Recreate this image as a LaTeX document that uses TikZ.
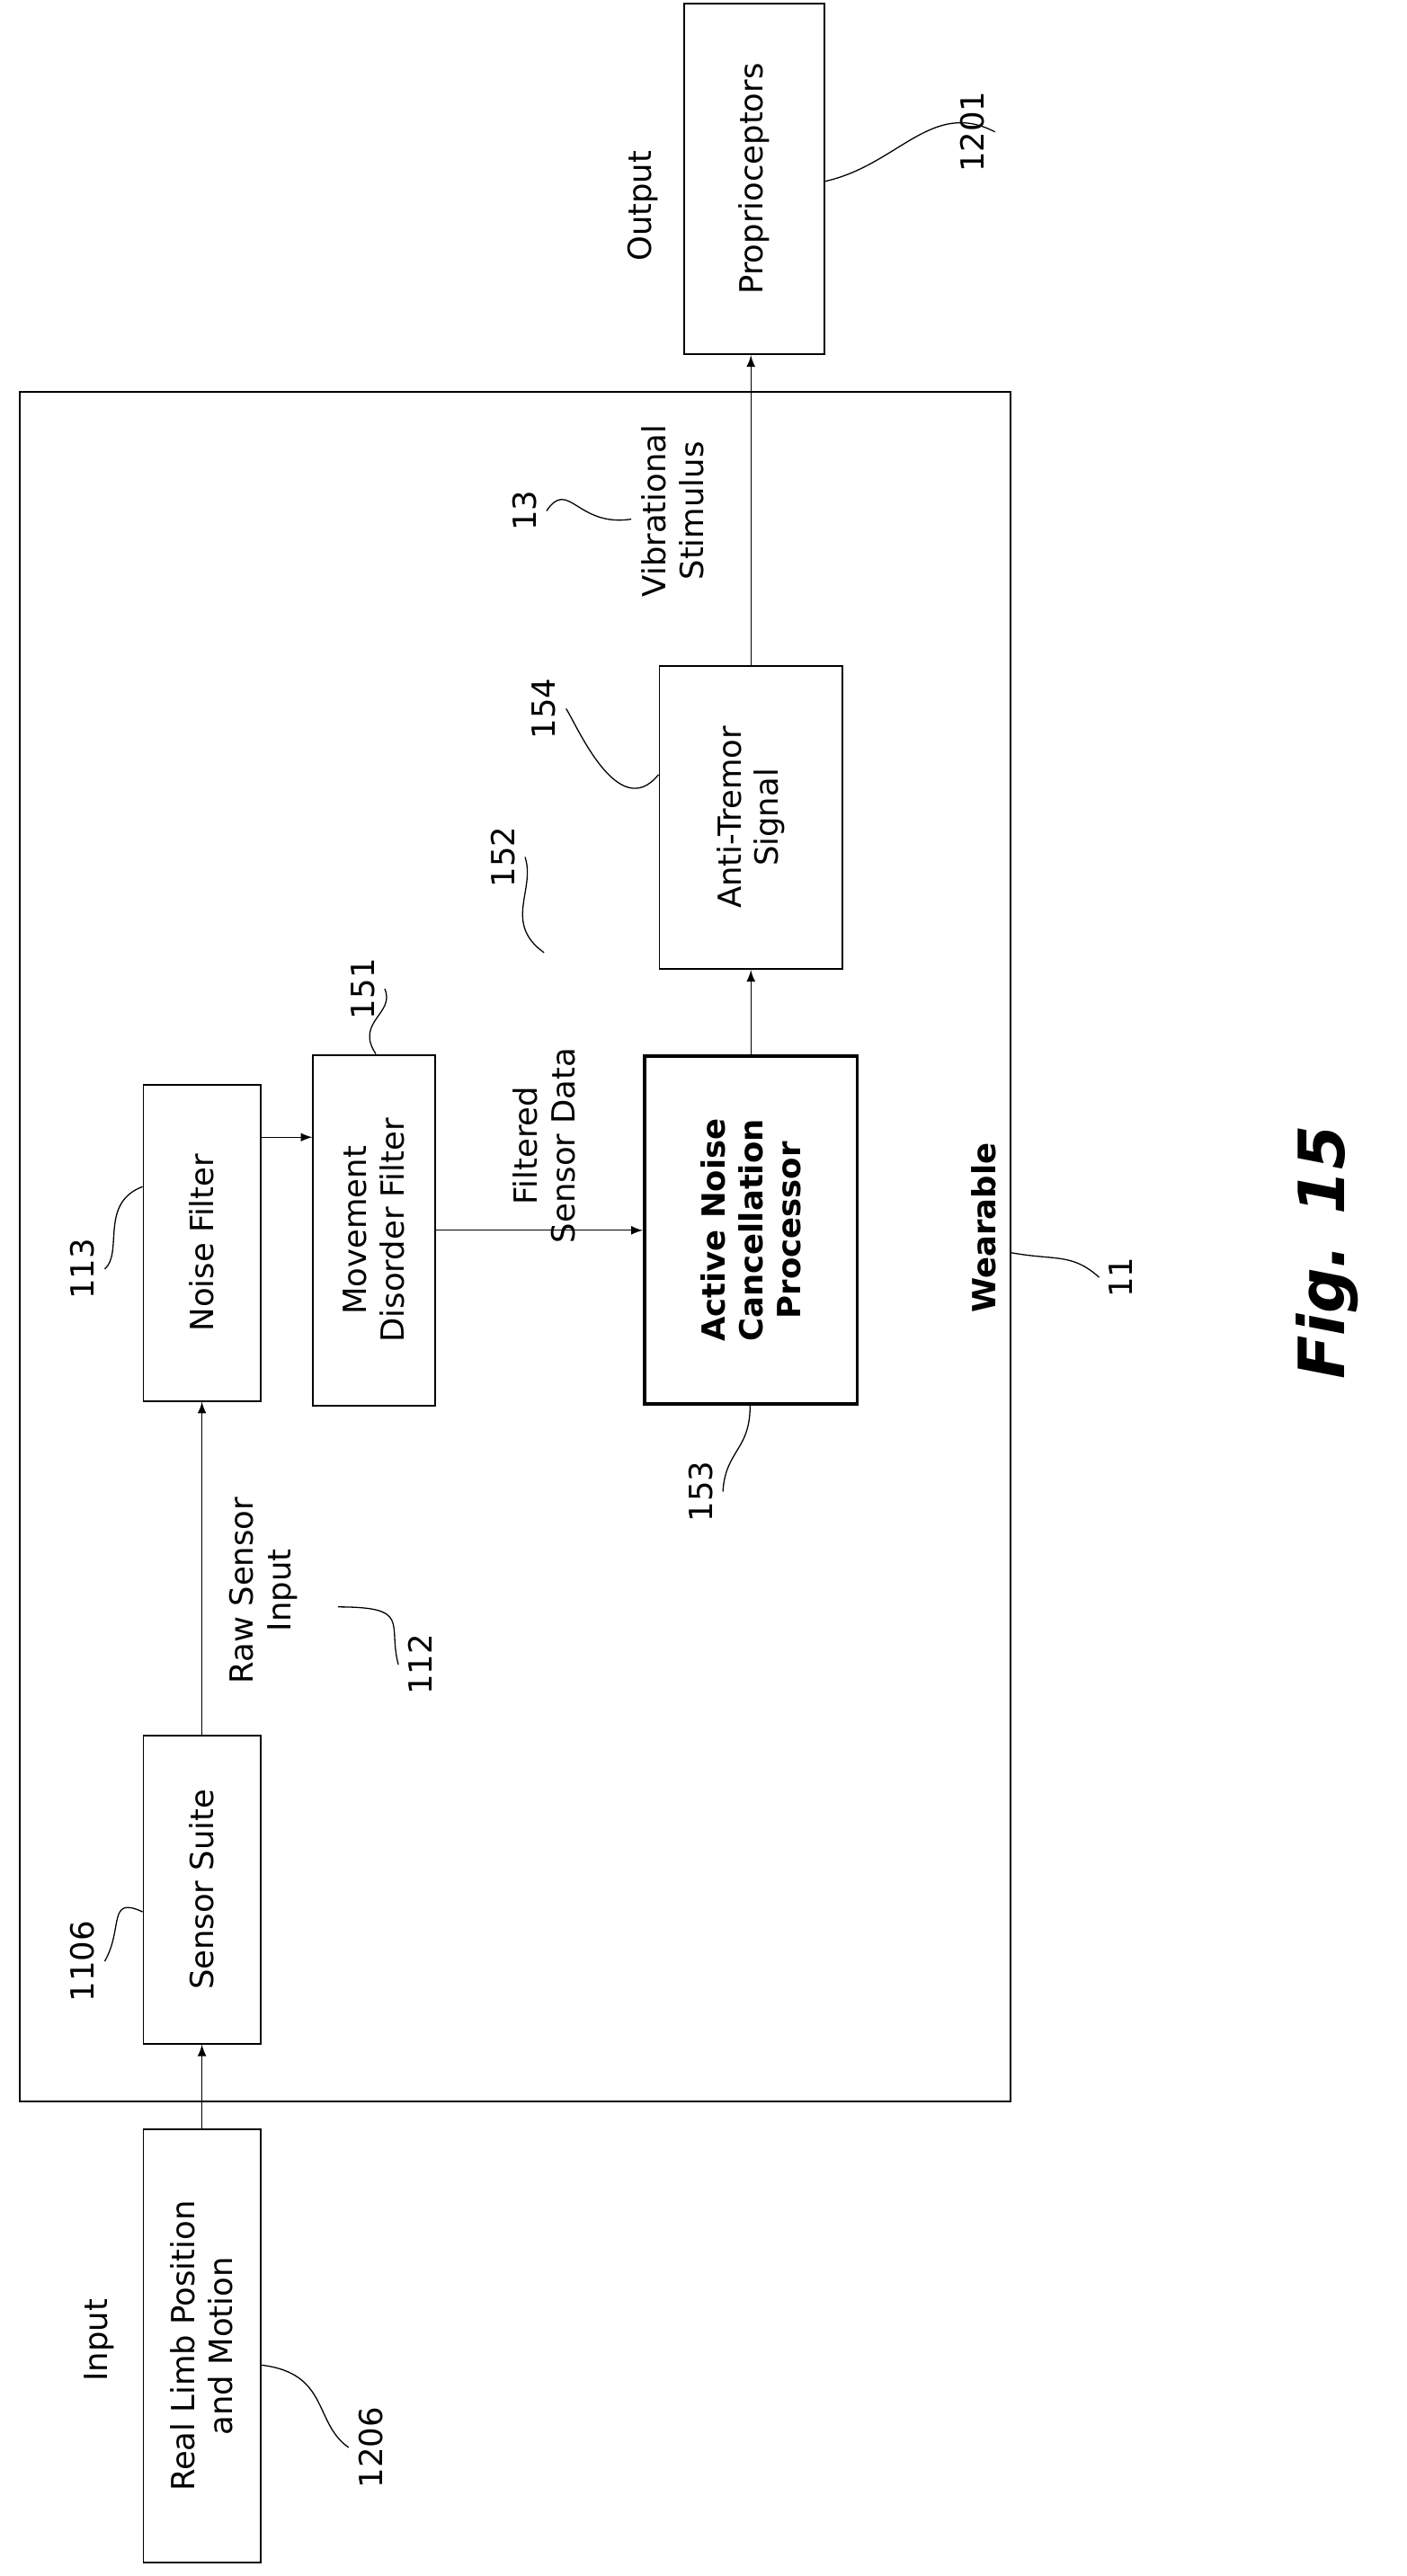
\documentclass[tikz,border=0pt]{standalone}
\usepackage{fontspec}
\setmainfont{DejaVu Sans}
\usetikzlibrary{arrows}
\tikzset{
  blk/.style={draw,semithick,rotate=90,align=center,inner sep=0pt,font=\fontsize{11}{13}\selectfont},
  lbl/.style={rotate=90,align=center,font=\fontsize{11}{13}\selectfont},
  sig/.style={thin,-latex},
  lead/.style={thin}
}
\begin{document}
\begin{tikzpicture}[x=0.02cm,y=-0.02cm]
\useasboundingbox (0,0) rectangle (853,1563);

% boxes (width = vertical extent, height = horizontal extent)
\draw[semithick] (12,238) rectangle (613,1275);
\node[blk,minimum width=213*0.02cm,minimum height=85*0.02cm] (prop) at (457.5,108.5) {Proprioceptors};
\node[blk,minimum width=184*0.02cm,minimum height=111*0.02cm] (anti) at (455.5,496) {Anti-Tremor\\Signal};
\node[blk,very thick,minimum width=211*0.02cm,minimum height=129*0.02cm,font=\fontsize{11}{13}\selectfont\bfseries] (anc) at (455.5,746.5) {Active Noise\\Cancellation\\Processor};
\node[blk,minimum width=192*0.02cm,minimum height=71*0.02cm] (noise) at (122.5,754) {Noise Filter};
\node[blk,minimum width=213*0.02cm,minimum height=74*0.02cm] (mdf) at (227,746.5) {Movement\\Disorder Filter};
\node[blk,minimum width=187*0.02cm,minimum height=71*0.02cm] (suite) at (122.5,1146.5) {Sensor Suite};
\node[blk,minimum width=263*0.02cm,minimum height=71*0.02cm] (limb) at (122.5,1423.5) {Real Limb Position\\and Motion};

% signal flow
\draw[sig] (limb.east) -- (suite.west);
\draw[sig] (suite.east) -- (noise.west);
\draw[sig] (noise.south |- 0,690) -- (mdf.north |- 0,690);
\draw[sig] (mdf.south) -- (anc.north);
\draw[sig] (anc.east) -- (anti.west);
\draw[sig] (anti.east) -- (anti.east |- prop.west);

% texts
\node[lbl] (in) at (60,1420) {Input};
\node[lbl] (out) at (390,125) {Output};
\node[lbl] (raw) at (160,965) {Raw Sensor\\Input};
\node[lbl] (filt) at (330,695) {Filtered\\Sensor Data};
\node[lbl] (vib) at (408,310) {Vibrational\\Stimulus};
\node[lbl,font=\fontsize{11}{13}\selectfont\bfseries] (wear) at (597,745) {Wearable};
\node[lbl,font=\fontsize{22}{26}\selectfont\bfseries\itshape] (fig) at (805,760) {Fig. 15};

% reference numerals and leaders
\node[lbl] (n1201) at (590,80) {1201};
\draw[lead] (n1201.south) .. controls (565,60) and (545,100) .. (prop.south |- 0,110);
\node[lbl] (n13) at (318,310) {13};
\draw[lead] (n13.south) .. controls (345,290) and (350,320) .. (vib.north |- 0,315);
\node[lbl] (n154) at (330,430) {154};
\draw[lead] (n154.south) .. controls (350,440) and (375,500) .. (anti.north |- 0,470);
\node[lbl] (n152) at (305,520) {152};
\coordinate (c152) at (330,578);
\draw[lead] (n152.south) .. controls (325,540) and (305,560) .. (c152);
\node[lbl] (n151) at (220,600) {151};
\draw[lead] (n151.south) .. controls (240,615) and (215,620) .. (mdf.east -| 228,0);
\node[lbl] (n113) at (50,770) {113};
\draw[lead] (n113.south) .. controls (75,760) and (60,730) .. (noise.north |- 0,720);
\node[lbl] (n153) at (425,905) {153};
\draw[lead] (n153.south) .. controls (440,880) and (455,880) .. (anc.west -| 455,0);
\node[lbl] (n112) at (255,1010) {112};
\coordinate (c112) at (205,975);
\draw[lead] (n112.north) .. controls (235,985) and (250,975) .. (c112);
\node[lbl] (n1106) at (50,1190) {1106};
\draw[lead] (n1106.south) .. controls (75,1170) and (65,1150) .. (suite.north |- 0,1160);
\node[lbl] (n1206) at (225,1485) {1206};
\draw[lead] (n1206.north) .. controls (190,1470) and (200,1440) .. (limb.south |- 0,1435);
\node[lbl] (n11) at (680,775) {11};
\draw[lead] (n11.north) .. controls (650,760) and (640,765) .. (613,760);
\end{tikzpicture}
\end{document}
